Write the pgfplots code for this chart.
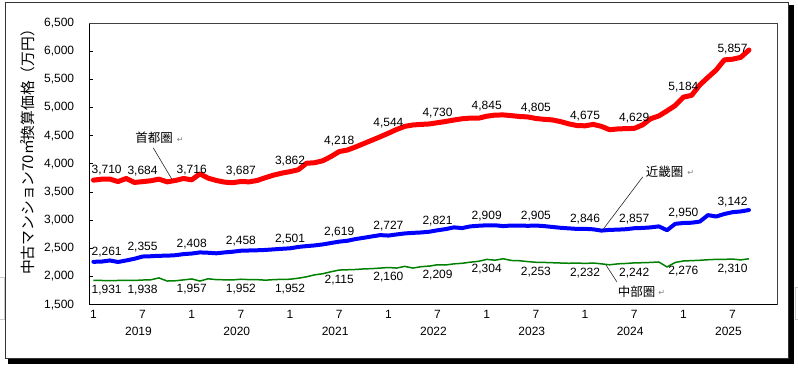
\documentclass[border=0pt]{standalone}
\usepackage{fontspec}
\setmainfont{Liberation Sans}
\newfontfamily\jp{Noto Sans CJK JP}
\newfontfamily\dv{DejaVu Sans}
\usepackage{pgfplots}
\usepackage{pgfplotstable}
\pgfplotsset{compat=1.18}
\definecolor{cred}{RGB}{255,0,0}
\definecolor{cblue}{RGB}{0,0,255}
\definecolor{cgreen}{RGB}{0,128,0}
\newcommand\lbl{\fontsize{12bp}{14bp}\selectfont}

\pgfplotstableread{
i shu kin chu
0 3710 2261 1931
1 3728 2265 1930
2 3730 2285 1925
3 3685 2258 1930
4 3740 2285 1933
5 3670 2315 1930
6 3684 2355 1938
7 3700 2360 1942
8 3728 2368 1975
9 3680 2370 1920
10 3705 2378 1925
11 3740 2398 1940
12 3716 2408 1957
13 3823 2428 1920
14 3746 2422 1960
15 3705 2412 1945
16 3675 2428 1942
17 3665 2440 1940
18 3687 2458 1952
19 3680 2462 1945
20 3705 2466 1945
21 3755 2472 1935
22 3800 2482 1945
23 3835 2492 1950
24 3862 2501 1952
25 3895 2525 1970
26 4010 2540 1995
27 4020 2552 2030
28 4055 2570 2050
29 4130 2595 2085
30 4218 2619 2115
31 4245 2635 2120
32 4300 2665 2125
33 4360 2688 2135
34 4420 2712 2140
35 4480 2735 2150
36 4544 2727 2160
37 4610 2747 2150
38 4665 2765 2180
39 4690 2775 2150
40 4700 2782 2175
41 4708 2795 2185
42 4730 2821 2209
43 4752 2842 2205
44 4778 2872 2225
45 4800 2860 2235
46 4812 2890 2255
47 4810 2901 2270
48 4845 2909 2304
49 4865 2910 2290
50 4868 2895 2315
51 4856 2905 2285
52 4840 2905 2280
53 4833 2900 2265
54 4805 2905 2253
55 4790 2895 2250
56 4780 2880 2245
57 4750 2865 2240
58 4710 2855 2235
59 4680 2845 2240
60 4675 2846 2232
61 4700 2838 2240
62 4665 2815 2225
63 4605 2828 2208
64 4620 2832 2225
65 4625 2840 2232
66 4629 2857 2242
67 4690 2862 2245
68 4800 2872 2250
69 4850 2890 2258
70 4940 2822 2170
71 5035 2935 2250
72 5184 2950 2276
73 5215 2955 2282
74 5400 2975 2288
75 5535 3090 2298
76 5665 3065 2305
77 5845 3110 2305
78 5857 3142 2310
79 5890 3155 2295
80 6020 3180 2315
}\data

\pgfplotstableread{
i shu kin chu
6 3684 2355 1938
12 3716 2408 1957
18 3687 2458 1952
24 3862 2501 1952
30 4218 2619 2115
36 4544 2727 2160
42 4730 2821 2209
48 4845 2909 2304
54 4805 2905 2253
60 4675 2846 2232
66 4629 2857 2242
72 5184 2950 2276
78 5857 3142 2310
}\labels

\pgfplotstableread{
i shu kin chu
0 3710 2261 1931
}\firstlab

\begin{document}
\begin{tikzpicture}[x=1bp,y=1bp]
\path (0,0) rectangle (798,368);
% frame + shadow
\fill[black] (789.5,363) rectangle (794,4);
\fill[black] (8,9.5) rectangle (794,4);
\draw[gray!40!black, line width=1bp] (5,365) rectangle (789,9.5);
% small artifacts
\draw[gray!40, line width=0.8bp] (0,90) -- (4,90) -- (4,48) -- (0,48);
\draw[gray!40, line width=0.8bp] (798,80) -- (795.5,80) -- (795.5,48) -- (798,48);

\begin{axis}[
  at={(89bp,63bp)}, anchor=south west, scale only axis,
  width=689bp, height=282bp,
  xmin=-0.5, xmax=83.5, ymin=1500, ymax=6500,
  axis x line*=bottom, axis y line*=left,
  axis line style={black, line width=0.8bp, -},
  ytick={1500,2000,...,6500},
  tick align=inside,
  ytick style={black, line width=0.8bp},
  major tick length=4bp,
  xtick={0,6,...,78},
  xticklabels={1,7,1,7,1,7,1,7,1,7,1,7,1,7},
  xtick style={draw=none},
  extra x ticks={-0.5,11.5,23.5,35.5,47.5,59.5,71.5,83.5},
  extra x tick labels={},
  extra x tick style={tick align=outside, major tick length=36bp, tick style={draw=gray!50!black, line width=1bp}},
  x tick label style={font=\lbl, anchor=north, inner sep=0pt, yshift=-5bp},
  y tick label style={font=\lbl, anchor=east, inner sep=0pt, xshift=-15bp},
  /pgf/number format/1000 sep={,},
  /pgf/number format/assume math mode=true,
  clip=false,
]
\addplot[cgreen, line width=1.5bp, mark=none, line join=round] table[x=i,y=chu]{\data};
\addplot[cblue, line width=4bp, mark=none, line join=round, line cap=round] table[x=i,y=kin]{\data};
\addplot[cred, line width=5bp, mark=none, line join=round, line cap=round] table[x=i,y=shu]{\data};

\addplot[draw=none, mark=none, nodes near coords, every node near coord/.append style={font=\lbl, anchor=base, inner sep=0pt, yshift=6.7bp, text=black}] table[x=i,y=shu]{\labels};
\addplot[draw=none, mark=none, nodes near coords, every node near coord/.append style={font=\lbl, anchor=base, inner sep=0pt, yshift=6.2bp, text=black}] table[x=i,y=kin]{\labels};
\addplot[draw=none, mark=none, nodes near coords, every node near coord/.append style={font=\lbl, anchor=base, inner sep=0pt, yshift=-13.3bp, text=black}] table[x=i,y=chu]{\labels};

\addplot[draw=none, mark=none, nodes near coords, every node near coord/.append style={font=\lbl, anchor=base west, inner sep=0pt, xshift=-2bp, yshift=6.7bp, text=black}] table[x=i,y=shu]{\firstlab};
\addplot[draw=none, mark=none, nodes near coords, every node near coord/.append style={font=\lbl, anchor=base west, inner sep=0pt, xshift=-2bp, yshift=6.2bp, text=black}] table[x=i,y=kin]{\firstlab};
\addplot[draw=none, mark=none, nodes near coords, every node near coord/.append style={font=\lbl, anchor=base west, inner sep=0pt, xshift=-2bp, yshift=-13.3bp, text=black}] table[x=i,y=chu]{\firstlab};

\node[font=\lbl, inner sep=0pt, yshift=-27bp] at (axis cs:5.5,1500) {2019};
\node[font=\lbl, inner sep=0pt, yshift=-27bp] at (axis cs:17.5,1500) {2020};
\node[font=\lbl, inner sep=0pt, yshift=-27bp] at (axis cs:29.5,1500) {2021};
\node[font=\lbl, inner sep=0pt, yshift=-27bp] at (axis cs:41.5,1500) {2022};
\node[font=\lbl, inner sep=0pt, yshift=-27bp] at (axis cs:53.5,1500) {2023};
\node[font=\lbl, inner sep=0pt, yshift=-27bp] at (axis cs:65.5,1500) {2024};
\node[font=\lbl, inner sep=0pt, yshift=-27bp] at (axis cs:77.5,1500) {2025};
\end{axis}
% top/right border of plot area
\draw[gray!50!black, line width=0.8bp] (89,345) -- (778,345) -- (778,63);

% y label
\node[font=\jp\fontsize{14.8bp}{16bp}\selectfont, rotate=90, inner sep=0pt] at (27,219.5) {中古マンション70㎡換算価格（万円）};

% annotations
\draw[gray!30!black, line width=0.6bp] (153,220) -- (172,188);
\node[font=\jp\fontsize{12.5bp}{14bp}\selectfont, anchor=west, inner sep=0pt] at (135,230) {首都圏};
\node[font=\dv\fontsize{8bp}{9bp}\selectfont, text=gray, inner sep=0pt] at (180,228) {↵};

\draw[gray!30!black, line width=0.6bp] (643,191) -- (603,138);
\node[font=\jp\fontsize{12.5bp}{14bp}\selectfont, anchor=west, inner sep=0pt] at (646,196) {近畿圏};
\node[font=\dv\fontsize{8bp}{9bp}\selectfont, text=gray, inner sep=0pt] at (691,195) {↵};

\draw[gray!30!black, line width=0.6bp] (617,86) -- (606,103);
\node[font=\jp\fontsize{12.5bp}{14bp}\selectfont, anchor=west, inner sep=0pt] at (618,76) {中部圏};
\node[font=\dv\fontsize{8bp}{9bp}\selectfont, text=gray, inner sep=0pt] at (662,75) {↵};
\end{tikzpicture}
\end{document}
